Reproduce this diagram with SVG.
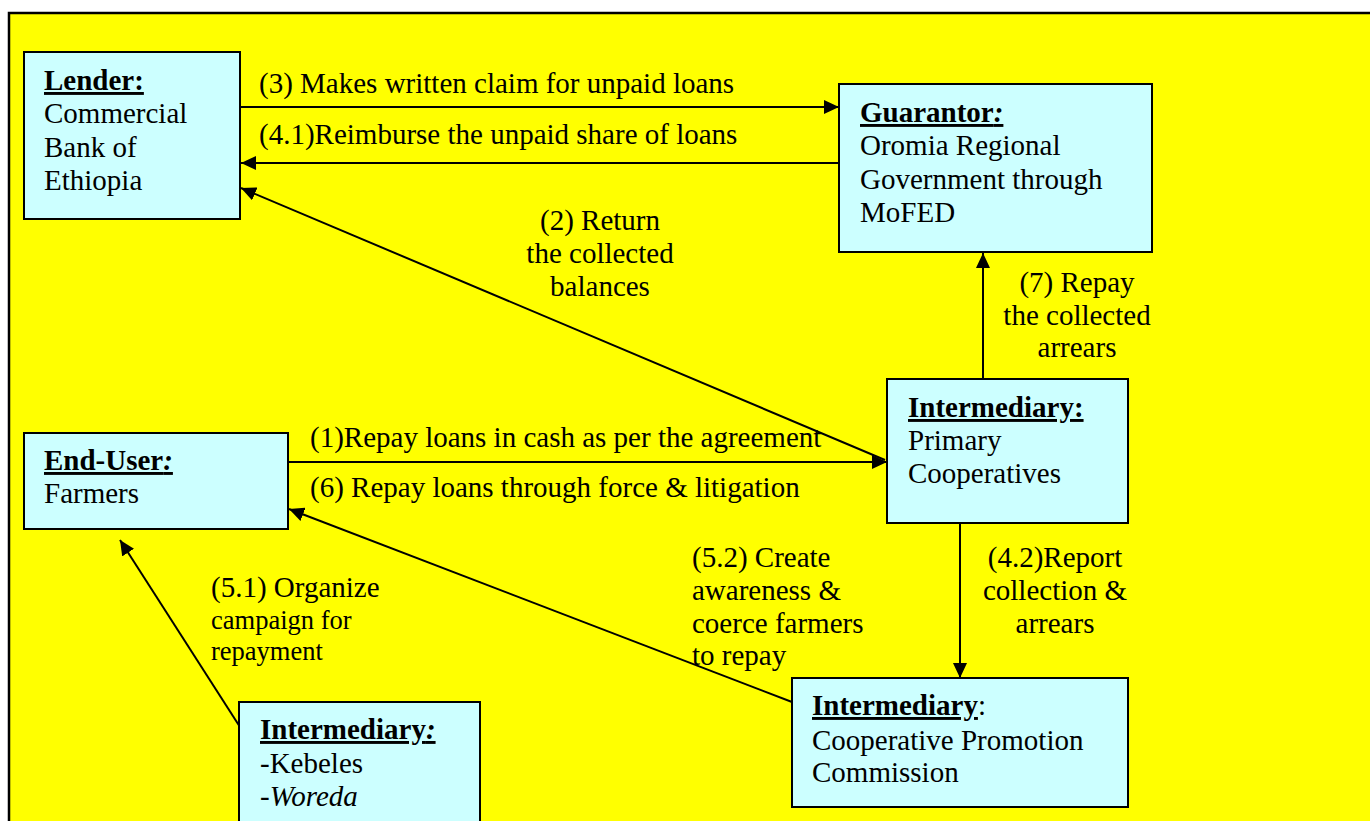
<svg xmlns="http://www.w3.org/2000/svg" width="1370" height="821" viewBox="0 0 1370 821">
<defs>
<style>
.t{font-family:"Liberation Serif","Times New Roman",serif;font-size:29px;fill:#000}
.s{font-size:26.5px}
.box{fill:#CCFFFF;stroke:#000;stroke-width:2}
.ln{stroke:#000;stroke-width:2;fill:none;marker-end:url(#ah)}
.b{font-weight:bold}
.u{text-decoration:underline}
.i{font-style:italic}
</style>
<marker id="ah" markerUnits="userSpaceOnUse" markerWidth="16" markerHeight="14" refX="15" refY="7" orient="auto">
<path d="M0,0 L15,7 L0,14 z" fill="#000"/>
</marker>
</defs>
<rect x="0" y="0" width="1370" height="821" fill="#fff"/>
<rect x="9" y="13" width="1375" height="820" fill="#FFFF00" stroke="#000" stroke-width="2.5"/>

<g id="connectors">
<line class="ln" x1="240" y1="107" x2="839" y2="107"/>
<line class="ln" x1="839" y1="163" x2="241" y2="163"/>
<line class="ln" x1="885" y1="460" x2="241" y2="188"/>
<line class="ln" x1="288" y1="462" x2="887" y2="462"/>
<line class="ln" x1="983" y1="378" x2="983" y2="253"/>
<line class="ln" x1="960" y1="510" x2="960" y2="678"/>
<line class="ln" x1="792" y1="702" x2="289" y2="509"/>
<line class="ln" x1="240" y1="727" x2="120" y2="540"/>
</g>

<g id="lender">
<rect class="box" x="24" y="52" width="216" height="167"/>
<text class="t" x="44" y="90"><tspan class="b u">Lender:</tspan></text>
<text class="t" x="44" y="123">Commercial</text>
<text class="t" x="44" y="157">Bank of</text>
<text class="t" x="44" y="190">Ethiopia</text>
</g>

<g id="guarantor">
<rect class="box" x="839" y="84" width="313" height="168"/>
<text class="t" x="860" y="122"><tspan class="b u">Guarantor<tspan class="i">:</tspan></tspan></text>
<text class="t" x="860" y="155">Oromia Regional</text>
<text class="t" x="860" y="189">Government through</text>
<text class="t" x="860" y="222">MoFED</text>
</g>

<g id="primary">
<rect class="box" x="887" y="379" width="241" height="144"/>
<text class="t" x="908" y="417"><tspan class="b u">Intermediary:</tspan></text>
<text class="t" x="908" y="450">Primary</text>
<text class="t" x="908" y="483">Cooperatives</text>
</g>

<g id="enduser">
<rect class="box" x="24" y="433" width="264" height="96"/>
<text class="t" x="44" y="470"><tspan class="b u">End-User<tspan class="i">:</tspan></tspan></text>
<text class="t" x="44" y="503">Farmers</text>
</g>

<g id="kebeles">
<rect class="box" x="239" y="702" width="241" height="140"/>
<text class="t" x="260" y="739"><tspan class="b u">Intermediary<tspan class="i">:</tspan></tspan></text>
<text class="t" x="260" y="773">-Kebeles</text>
<text class="t" x="260" y="806">-<tspan class="i">Woreda</tspan></text>
</g>

<g id="cpc">
<rect class="box" x="792" y="678" width="336" height="129"/>
<text class="t" x="812" y="715"><tspan class="b u">Intermediary</tspan>:</text>
<text class="t" x="812" y="750">Cooperative Promotion</text>
<text class="t" x="812" y="782">Commission</text>
</g>

<g id="labels">
<text class="t" x="259" y="93">(3) Makes written claim for unpaid loans</text>
<text class="t" x="259" y="144">(4.1)Reimburse the unpaid share of loans</text>
<text class="t" text-anchor="middle" x="600" y="230">(2) Return</text>
<text class="t" text-anchor="middle" x="600" y="263">the collected</text>
<text class="t" text-anchor="middle" x="600" y="296">balances</text>
<text class="t" text-anchor="middle" x="1077" y="292">(7) Repay</text>
<text class="t" text-anchor="middle" x="1077" y="325">the collected</text>
<text class="t" text-anchor="middle" x="1077" y="357">arrears</text>
<text class="t" x="310" y="447">(1)Repay loans in cash as per the agreement</text>
<text class="t" x="310" y="497">(6) Repay loans through force &amp; litigation</text>
<text class="t" text-anchor="middle" x="1055" y="567">(4.2)Report</text>
<text class="t" text-anchor="middle" x="1055" y="600">collection &amp;</text>
<text class="t" text-anchor="middle" x="1055" y="633">arrears</text>
<text class="t" x="692" y="567">(5.2) Create</text>
<text class="t" x="692" y="600">awareness &amp;</text>
<text class="t" x="692" y="633">coerce farmers</text>
<text class="t" x="692" y="665">to repay</text>
<text class="t" x="211" y="597">(5.1) Organize</text>
<text class="t s" x="211" y="629">campaign for</text>
<text class="t s" x="211" y="660">repayment</text>
</g>
</svg>
